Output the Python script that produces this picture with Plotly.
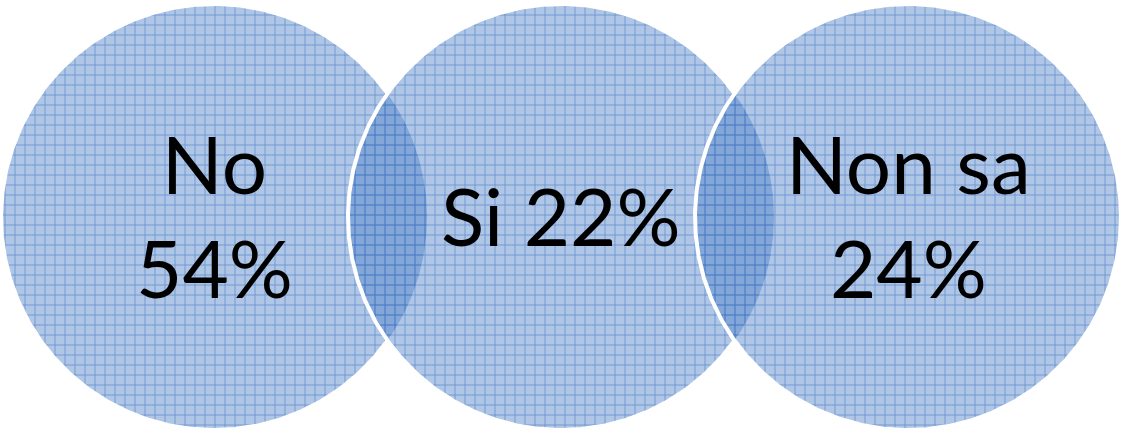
import numpy as np
import plotly.graph_objects as go

# Survey answers and their shares (%)
labels = ["No", "Si", "Non sa"]
values = [54, 22, 24]
two_line = [True, False, True]

# Circle layout (pixel-like coordinates)
centers_x = [214, 561, 908]
center_y = 217
radius = 213

W, H = 1122, 433
theta = np.linspace(0, 2 * np.pi, 721)

fill_bg = "rgba(77,128,199,0.45)"
fill_fg = "rgba(40,95,180,0.55)"

fig = go.Figure()

for i, cx in enumerate(centers_x):
    xs = cx + radius * np.cos(theta)
    ys = center_y + radius * np.sin(theta)
    fig.add_trace(go.Scatter(
        x=xs, y=ys, mode="lines", fill="toself",
        line=dict(width=0, color="rgba(0,0,0,0)"),
        fillpattern=dict(shape="+", size=10, solidity=0.15,
                         fgcolor=fill_fg, bgcolor=fill_bg, fgopacity=1),
        hoverinfo="skip", showlegend=False,
    ))
    # white outline, hidden where a later circle lies on top
    ox = xs.astype(object)
    oy = ys.astype(object)
    for cx2 in centers_x[i + 1:]:
        inside = (xs - cx2) ** 2 + (ys - center_y) ** 2 < radius ** 2
        ox[inside] = None
        oy[inside] = None
    fig.add_trace(go.Scatter(
        x=ox, y=oy, mode="lines",
        line=dict(width=4, color="white"),
        hoverinfo="skip", showlegend=False, connectgaps=False,
    ))

texts = [
    f"{lab}<br>{val}%" if two else f"{lab} {val}%"
    for lab, val, two in zip(labels, values, two_line)
]
for cx, t in zip(centers_x, texts):
    fig.add_annotation(
        x=cx, y=center_y - 2, text=t, showarrow=False,
        font=dict(family="Lato", size=80, color="black"),
        xanchor="center", yanchor="middle", align="center",
    )

fig.update_layout(
    width=W, height=H,
    margin=dict(l=0, r=0, t=0, b=0),
    paper_bgcolor="white", plot_bgcolor="white",
    xaxis=dict(range=[0, W], visible=False, fixedrange=True),
    yaxis=dict(range=[H, 0], visible=False, fixedrange=True),
)

fig.write_html("out.html")
